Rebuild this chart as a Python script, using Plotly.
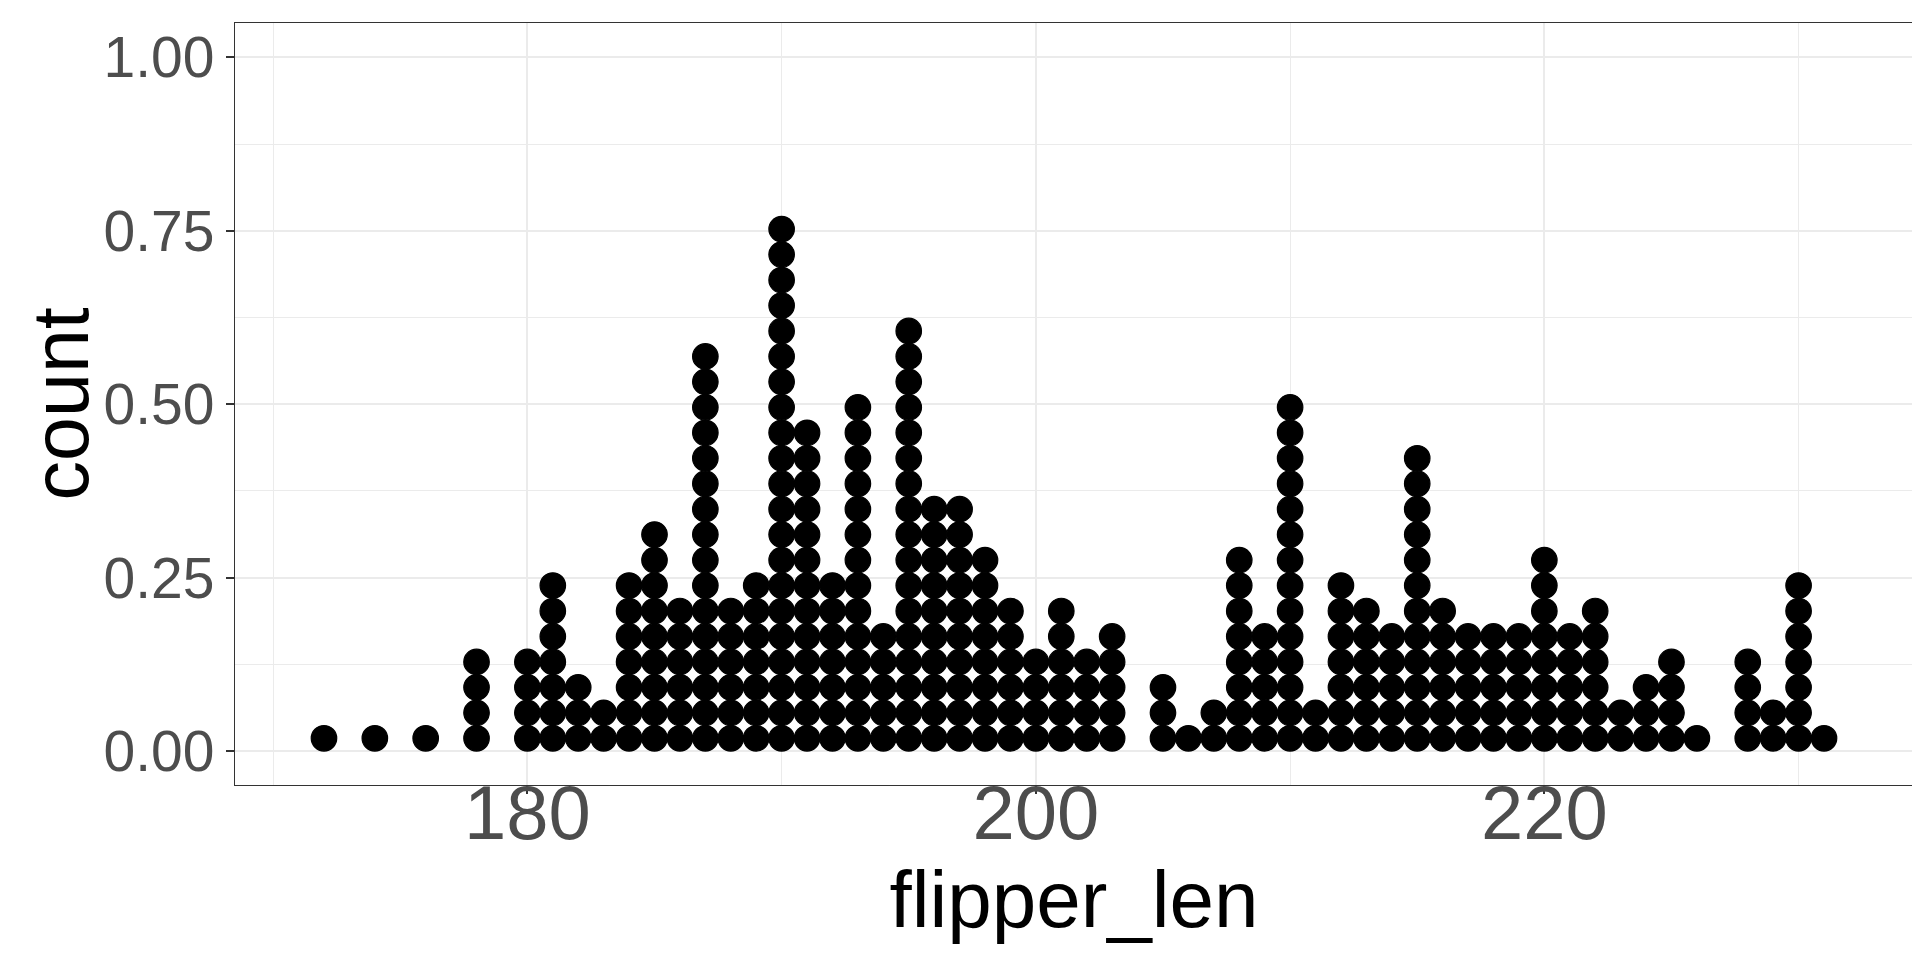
import plotly.graph_objects as go

# dotplot of flipper length: one column of stacked dots per value
flipper_len = [172, 174, 176, 178,
               180, 181, 182, 183, 184, 185, 186, 187, 188, 189, 190, 191,
               192, 193, 194, 195, 196, 197, 198, 199, 200, 201, 202, 203,
               205, 206, 207, 208, 209, 210, 211, 212, 213, 214, 215, 216,
               217, 218, 219, 220, 221, 222, 223, 224, 225, 226,
               228, 229, 230, 231]
counts = [1, 1, 1, 4,
          4, 7, 3, 2, 7, 9, 6, 16, 6, 7, 21, 13,
          7, 14, 5, 17, 10, 10, 8, 6, 4, 6, 4, 5,
          3, 1, 2, 8, 5, 14, 2, 7, 6, 5, 12, 6,
          5, 5, 5, 8, 5, 6, 2, 3, 4, 1,
          4, 2, 7, 1]

y_ticks = [0, 0.25, 0.5, 0.75, 1.0]
x_ticks = [180, 200, 220]

# height of one dot on the (meaningless) count axis
step = 0.0367

xs, ys = [], []
for v, n in zip(flipper_len, counts):
    for k in range(n):
        xs.append(v)
        ys.append((k + 0.5) * step)

fig = go.Figure(go.Scatter(
    x=xs, y=ys, mode="markers",
    marker=dict(size=25.5, color="black", line=dict(color="black", width=1.2)),
    hoverinfo="x",
))

font = "Liberation Sans, Arial, Helvetica, sans-serif"
grid = "#EBEBEB"

fig.update_layout(
    width=1920, height=960,
    margin=dict(l=227, r=15, t=15, b=183),
    paper_bgcolor="white", plot_bgcolor="white",
    showlegend=False,
    font=dict(family=font),
)
fig.update_xaxes(
    range=[168.5, 234.5], tickvals=x_ticks,
    showgrid=True, gridcolor=grid, gridwidth=2,
    minor=dict(dtick=10, tick0=170, showgrid=True, gridcolor=grid, gridwidth=1, ticks=""),
    showline=True, linecolor="#333333", linewidth=1.3, mirror=True,
    ticks="outside", ticklen=8, tickwidth=1.5, tickcolor="#333333",
    tickfont=dict(size=76, color="#4D4D4D", family=font),
    ticklabelstandoff=-46,
    title=dict(text="flipper_len", font=dict(size=80, color="black", family=font), standoff=16),
    zeroline=False, automargin=False,
)
fig.update_yaxes(
    range=[-0.049, 1.0495], tickvals=y_ticks, tickformat=".2f",
    showgrid=True, gridcolor=grid, gridwidth=2,
    minor=dict(dtick=0.125, tick0=0, showgrid=True, gridcolor=grid, gridwidth=1, ticks=""),
    showline=True, linecolor="#333333", linewidth=1.3, mirror=True,
    ticks="outside", ticklen=8, tickwidth=1.5, tickcolor="#333333",
    tickfont=dict(size=57, color="#4D4D4D", family=font),
    zeroline=False, automargin=False,
)

# y title as a rotated annotation so it sits where ggplot puts it
fig.add_annotation(
    text="count", textangle=-90, showarrow=False,
    xref="paper", yref="paper", x=-0.104, y=0.5,
    xanchor="center", yanchor="middle",
    font=dict(size=79, color="black", family=font),
)

fig.write_html("out.html")
